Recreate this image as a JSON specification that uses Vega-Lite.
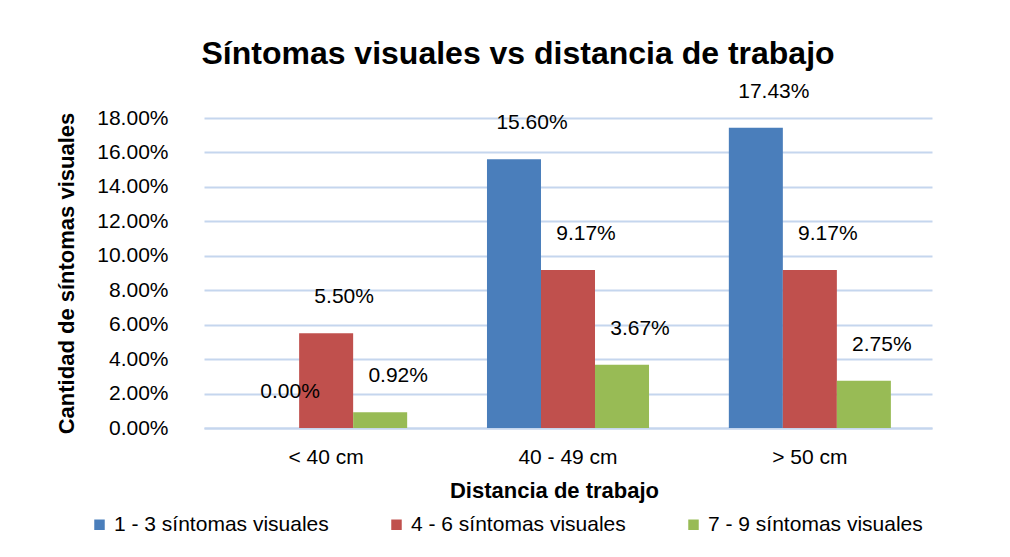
{
  "$schema": "https://vega.github.io/schema/vega-lite/v6.json",
  "width": 728,
  "height": 310,
  "autosize": "none",
  "padding": {"left": 204, "top": 118, "right": 78, "bottom": 129},
  "background": "white",
  "title": {
    "text": "Síntomas visuales vs distancia de trabajo",
    "font": "Liberation Sans",
    "fontSize": 32,
    "fontWeight": "bold",
    "color": "#000000",
    "anchor": "middle",
    "dx": -50,
    "offset": 10
  },
  "data": {
    "values": [
      {"distancia": "< 40 cm", "grupo": "1 - 3 síntomas visuales", "valor": 0.0},
      {"distancia": "< 40 cm", "grupo": "4 - 6 síntomas visuales", "valor": 0.055},
      {"distancia": "< 40 cm", "grupo": "7 - 9 síntomas visuales", "valor": 0.0092},
      {"distancia": "40 - 49 cm", "grupo": "1 - 3 síntomas visuales", "valor": 0.156},
      {"distancia": "40 - 49 cm", "grupo": "4 - 6 síntomas visuales", "valor": 0.0917},
      {"distancia": "40 - 49 cm", "grupo": "7 - 9 síntomas visuales", "valor": 0.0367},
      {"distancia": "> 50 cm", "grupo": "1 - 3 síntomas visuales", "valor": 0.1743},
      {"distancia": "> 50 cm", "grupo": "4 - 6 síntomas visuales", "valor": 0.0917},
      {"distancia": "> 50 cm", "grupo": "7 - 9 síntomas visuales", "valor": 0.0275}
    ]
  },
  "encoding": {
    "x": {
      "field": "distancia",
      "type": "nominal",
      "sort": ["< 40 cm", "40 - 49 cm", "> 50 cm"],
      "scale": {"paddingInner": 0.33, "paddingOuter": 0.17},
      "axis": {
        "title": "Distancia de trabajo",
        "labelAngle": 0,
        "labelFontSize": 21,
        "labelPadding": 18,
        "titleFontSize": 22,
        "titleFontWeight": "bold",
        "titlePadding": 13,
        "titleX": 350,
        "domain": true,
        "domainColor": "#c5d6ee",
        "domainWidth": 2,
        "ticks": false,
        "grid": false
      }
    },
    "xOffset": {
      "field": "grupo",
      "type": "nominal",
      "scale": {"paddingInner": 0, "paddingOuter": 0}
    },
    "y": {
      "field": "valor",
      "type": "quantitative",
      "scale": {"domain": [0, 0.18], "nice": false},
      "axis": {
        "title": "Cantidad de síntomas visuales",
        "values": [0, 0.02, 0.04, 0.06, 0.08, 0.1, 0.12, 0.14, 0.16, 0.18],
        "format": ".2%",
        "labelFontSize": 21,
        "labelPadding": 36,
        "titleFontSize": 22,
        "titleFontWeight": "bold",
        "titlePadding": 18,
        "domain": false,
        "ticks": false,
        "grid": true,
        "gridColor": "#c5d6ee",
        "gridWidth": 2
      }
    }
  },
  "layer": [
    {
      "mark": {"type": "bar"},
      "encoding": {
        "color": {
          "field": "grupo",
          "type": "nominal",
          "scale": {
            "domain": ["1 - 3 síntomas visuales", "4 - 6 síntomas visuales", "7 - 9 síntomas visuales"],
            "range": ["#4a7ebb", "#c0504d", "#98bb55"]
          },
          "legend": {
            "orient": "none",
            "legendX": -115,
            "legendY": 396,
            "direction": "horizontal",
            "title": null,
            "symbolType": "square",
            "symbolSize": 110,
            "labelFontSize": 21,
            "labelOffset": 4,
            "labelLimit": 0,
            "columnPadding": 57
          }
        }
      }
    },
    {
      "mark": {"type": "text", "fontSize": 21, "dy": -26, "dx": 18, "baseline": "bottom", "color": "#000000"},
      "encoding": {
        "text": {"field": "valor", "type": "quantitative", "format": ".2%"}
      }
    }
  ],
  "config": {
    "font": "Liberation Sans",
    "view": {"stroke": null},
    "axis": {"labelColor": "#000000", "titleColor": "#000000", "labelFont": "Liberation Sans", "titleFont": "Liberation Sans"},
    "legend": {"labelColor": "#000000", "labelFont": "Liberation Sans"}
  }
}
